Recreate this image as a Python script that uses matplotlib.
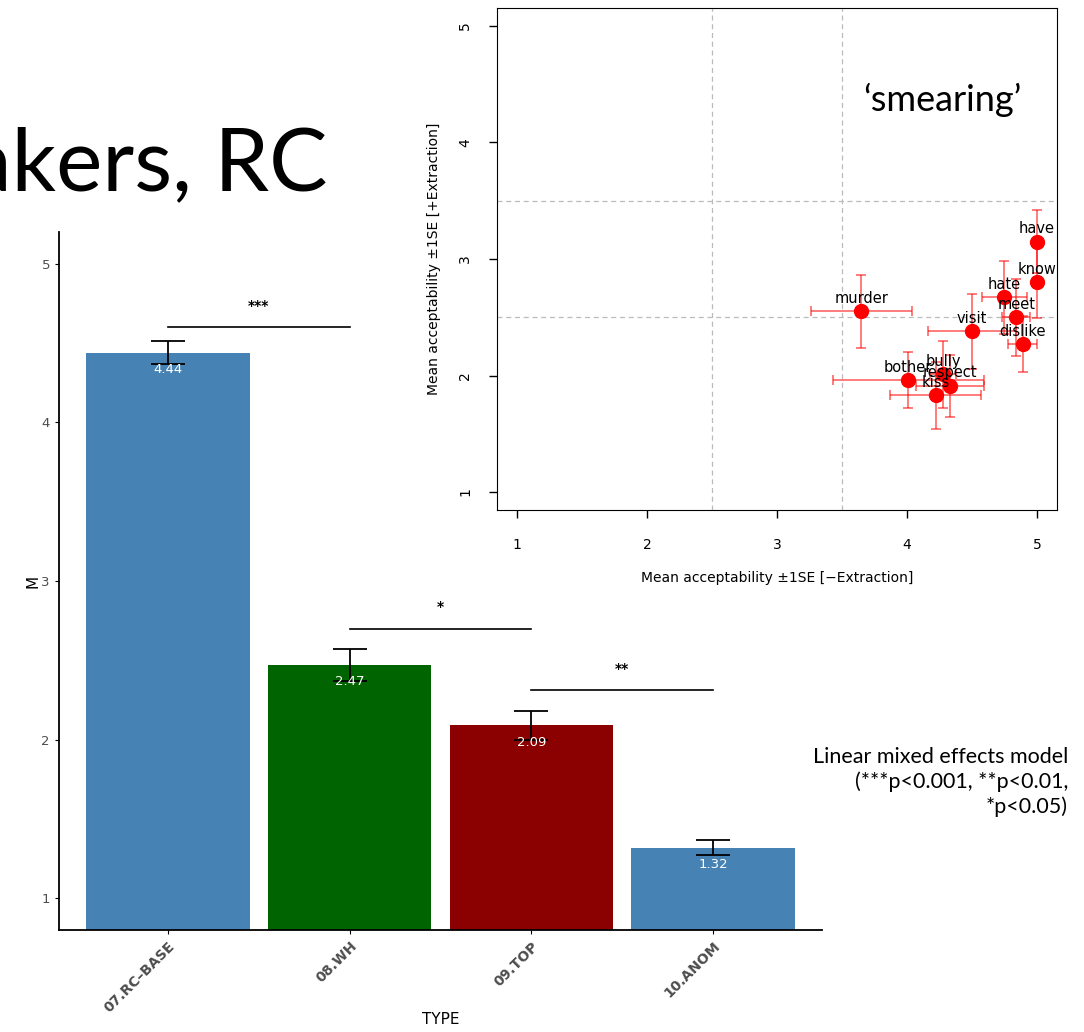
import matplotlib
matplotlib.use("Agg")
import matplotlib.pyplot as plt

# bar chart data (mean acceptability by TYPE)
types = ["07.RC\u2013BASE", "08.WH", "09.TOP", "10.ANOM"]
means = [4.44, 2.47, 2.09, 1.32]
ses = [0.075, 0.10, 0.09, 0.05]
bar_colors = ["#4682B4", "#006400", "#8B0000", "#4682B4"]

# significance brackets: (from bar, to bar, height, stars)
sig_from = [0, 1, 2]
sig_to = [1, 2, 3]
sig_y = [4.60, 2.70, 2.31]
sig_txt = ["***", "*", "**"]

# scatter data (verbs)
verbs = ["have", "know", "hate", "meet", "dislike", "visit", "murder",
         "bother", "bully", "respect", "kiss"]
x_minus = [5.00, 5.00, 4.75, 4.84, 4.89, 4.50, 3.65, 4.01, 4.28, 4.33, 4.22]
y_plus = [3.15, 2.80, 2.67, 2.50, 2.27, 2.38, 2.55, 1.96, 2.01, 1.91, 1.83]
x_se = [0.0, 0.0, 0.17, 0.11, 0.11, 0.34, 0.39, 0.58, 0.10, 0.26, 0.35]
y_se = [0.27, 0.31, 0.31, 0.33, 0.24, 0.32, 0.31, 0.24, 0.29, 0.27, 0.29]

W, H = 1084, 1032
fig = plt.figure(figsize=(W / 100, H / 100), dpi=100)

def rect(l, t, r, b):
    return [l / W, 1 - b / H, (r - l) / W, (b - t) / H]

# slide title fragment (behind the scatter image)
fig.text(327 / W, 1 - 190 / H, "akers, RC", ha="right", va="baseline",
         fontsize=63, family="Lato", color="black")

# ---- bar chart ----
ax = fig.add_axes(rect(59, 232, 822, 930))
pos = range(1, len(types) + 1)
ax.bar(pos, means, width=0.9, color=bar_colors, zorder=1)
ax.errorbar(pos, means, yerr=ses, fmt="none", ecolor="black", elinewidth=1.3,
            capsize=12, capthick=1.3, zorder=3)
for p, m in zip(pos, means):
    ax.text(p, m - 0.105, f"{m:.2f}", ha="center", va="center",
            color="white", fontsize=9.5, zorder=4)
for a, b, y, s in zip(sig_from, sig_to, sig_y, sig_txt):
    ax.plot([a + 1, b + 1], [y, y], color="black", lw=1.2)
    ax.text((a + b) / 2 + 1, y + 0.09, s, ha="center", va="bottom",
            fontsize=10, fontweight="bold")
ax.set_xlim(0.4, 4.6)
ax.set_ylim(0.8, 5.2)
ax.set_yticks([1, 2, 3, 4, 5])
ax.set_xticks(list(pos))
ax.set_xticklabels(types, rotation=45, ha="right", rotation_mode="anchor",
                   fontweight="bold", color="#4D4D4D", fontsize=10)
ax.tick_params(axis="y", labelcolor="#4D4D4D", labelsize=9.5, length=3)
ax.tick_params(axis="x", length=3)
for s in ["top", "right"]:
    ax.spines[s].set_visible(False)
for s in ["left", "bottom"]:
    ax.spines[s].set_linewidth(1.3)
ax.set_xlabel("TYPE", fontsize=11)
ax.xaxis.set_label_coords(0.5, -0.118)
ax.set_ylabel("M", fontsize=11)
ax.yaxis.set_label_coords(-0.024, 0.5)
ax.patch.set_alpha(0)

# ---- scatter (pasted on top) ----
ax2 = fig.add_axes(rect(497, 8, 1057, 510))
ax2.patch.set_facecolor("white")
for v in [2.5, 3.5]:
    ax2.axvline(v, color="#BBBBBB", ls=(0, (4, 3)), lw=0.9, zorder=0)
    ax2.axhline(v, color="#BBBBBB", ls=(0, (4, 3)), lw=0.9, zorder=0)
ax2.errorbar(x_minus, y_plus, xerr=x_se, yerr=y_se, fmt="none", ecolor="red",
             alpha=0.65, elinewidth=1.1, capsize=3.5, capthick=1.1, zorder=2)
ax2.plot(x_minus, y_plus, "o", color="red", markersize=10, zorder=3)
for v, x, y in zip(verbs, x_minus, y_plus):
    ax2.annotate(v, (x, y), xytext=(0, 4), textcoords="offset points",
                 ha="center", va="bottom", fontsize=10.5, zorder=4)
ax2.set_xlim(0.846, 5.154)
ax2.set_ylim(0.846, 5.154)
ax2.set_xticks([1, 2, 3, 4, 5])
ax2.set_yticks([1, 2, 3, 4, 5])
ax2.tick_params(axis="both", labelsize=10, length=6, width=1)
ax2.tick_params(axis="x", pad=14)
ax2.tick_params(axis="y", pad=12)
for lab in ax2.get_yticklabels():
    lab.set_rotation(90)
    lab.set_va("center")
ax2.set_xlabel("Mean acceptability \u00b11SE [\u2212Extraction]", fontsize=10, labelpad=14)
ax2.set_ylabel("Mean acceptability \u00b11SE [+Extraction]", fontsize=10, labelpad=12)
ax2.text(0.9375, 0.817, "\u2018smearing\u2019", transform=ax2.transAxes, ha="right",
         va="center", fontsize=26, family="Lato")

fig.text(1068 / W, 1 - 782 / H,
         "Linear mixed effects model\n(***p<0.001, **p<0.01,\n*p<0.05)",
         ha="right", va="center", fontsize=15.5, family="Lato",
         multialignment="right", linespacing=1.25)

fig.savefig("out.png", dpi=100, facecolor="white")
